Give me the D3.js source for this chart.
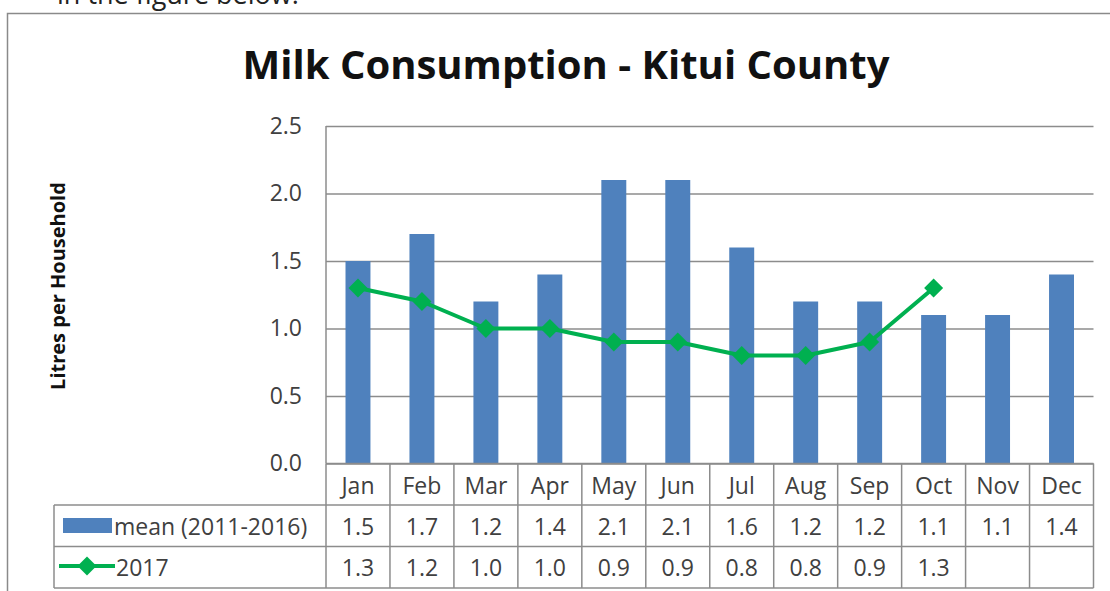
<!DOCTYPE html>
<html>
<head>
<meta charset="utf-8">
<script src="https://cdn.jsdelivr.net/npm/d3@7"></script>
<style>
  body { margin: 0; background: #fff; }
  svg { display: block; font-family: "Open Sans", sans-serif; }
</style>
</head>
<body>
<svg id="chart" width="1110" height="591"></svg>
<script>
const months = ["Jan", "Feb", "Mar", "Apr", "May", "Jun", "Jul", "Aug", "Sep", "Oct", "Nov", "Dec"];
const meanValues = [1.5, 1.7, 1.2, 1.4, 2.1, 2.1, 1.6, 1.2, 1.2, 1.1, 1.1, 1.4];
const values2017 = [1.3, 1.2, 1.0, 1.0, 0.9, 0.9, 0.8, 0.8, 0.9, 1.3, null, null];
const yTicks = [0, 0.5, 1.0, 1.5, 2.0, 2.5];
const seriesNames = ["mean (2011-2016)", "2017"];

const svg = d3.select("#chart");
const plot = { left: 326, right: 1093.5, top: 126, bottom: 463.5 };
const rows = { head: 463.5, r1: 505, r2: 546.5, end: 588 };
const tableLeft = 54;

const barColor = "#4f81bd", lineColor = "#00b050", gridColor = "#8c8c8c", textColor = "#404040";

// text cut off at the top of the page
svg.append("text")
    .attr("x", 57).attr("y", 4)
    .attr("font-size", 27)
    .attr("fill", "#222")
    .text("in the figure below.");

// outer chart frame
svg.append("path")
    .attr("d", "M7.5,591 V13.5 H1110")
    .attr("fill", "none")
    .attr("stroke", "#8a8a8a")
    .attr("stroke-width", 1.5);

// title
svg.append("text")
    .attr("x", 566).attr("y", 79)
    .attr("text-anchor", "middle")
    .attr("font-size", 40)
    .attr("font-weight", "bold")
    .attr("fill", "#111")
    .text("Milk Consumption - Kitui County");

// y axis title
svg.append("text")
    .attr("transform", "translate(65,286) rotate(-90)")
    .attr("text-anchor", "middle")
    .attr("font-size", 20)
    .attr("font-weight", "bold")
    .attr("fill", "#111")
    .text("Litres per Household");

const x = d3.scaleBand()
    .domain(months)
    .range([plot.left, plot.right])
    .padding(0);

const y = d3.scaleLinear()
    .domain([0, 2.5])
    .range([plot.bottom, plot.top]);

// gridlines + tick labels
const yAxis = svg.append("g")
    .attr("transform", `translate(${plot.left},0)`)
    .call(d3.axisLeft(y)
      .tickValues(yTicks)
      .tickFormat(d3.format(".1f"))
      .tickSize(-(plot.right - plot.left))
      .tickPadding(24));
yAxis.select(".domain").remove();
yAxis.selectAll(".tick line")
    .attr("stroke", gridColor)
    .attr("stroke-width", 1.5);
yAxis.selectAll(".tick text")
    .attr("font-size", 23)
    .attr("font-family", "Open Sans, sans-serif")
    .attr("fill", textColor);

// y axis line
svg.append("line")
    .attr("x1", plot.left).attr("x2", plot.left)
    .attr("y1", plot.top).attr("y2", plot.bottom)
    .attr("stroke", gridColor).attr("stroke-width", 1.5);

// bars
const barW = x.bandwidth() * 0.39;
svg.selectAll(".bar")
    .data(months.map((m, i) => ({ m, v: meanValues[i] })))
    .enter().append("rect")
    .attr("class", "bar")
    .attr("x", d => x(d.m) + x.bandwidth() / 2 - barW / 2)
    .attr("y", d => y(d.v))
    .attr("width", barW)
    .attr("height", d => y(0) - y(d.v))
    .attr("fill", barColor);

// 2017 line
const pts = months.map((m, i) => ({ m, v: values2017[i] })).filter(d => d.v != null);
const line = d3.line()
    .x(d => x(d.m) + x.bandwidth() / 2)
    .y(d => y(d.v));
svg.append("path")
    .datum(pts)
    .attr("d", line)
    .attr("fill", "none")
    .attr("stroke", lineColor)
    .attr("stroke-width", 4)
    .attr("stroke-linejoin", "round");

const diamond = d3.symbol().type(d3.symbolDiamond2).size(230);
svg.selectAll(".marker")
    .data(pts)
    .enter().append("path")
    .attr("class", "marker")
    .attr("transform", d => `translate(${x(d.m) + x.bandwidth() / 2},${y(d.v)})`)
    .attr("d", diamond)
    .attr("fill", lineColor);

// data table
const table = svg.append("g")
    .attr("stroke", gridColor)
    .attr("stroke-width", 1.5);
// horizontal lines
[[plot.left, rows.head], [tableLeft, rows.r1], [tableLeft, rows.r2], [tableLeft, rows.end]].forEach(([x0, yy]) => {
  table.append("line").attr("x1", x0).attr("x2", plot.right).attr("y1", yy).attr("y2", yy);
});
// vertical lines
table.append("line").attr("x1", tableLeft).attr("x2", tableLeft).attr("y1", rows.r1).attr("y2", rows.end);
months.forEach(m => {
  table.append("line").attr("x1", x(m)).attr("x2", x(m)).attr("y1", rows.head).attr("y2", rows.end);
});
table.append("line").attr("x1", plot.right).attr("x2", plot.right).attr("y1", rows.head).attr("y2", rows.end);

const cellText = (txt, cx, cy) => svg.append("text")
    .attr("x", cx).attr("y", cy)
    .attr("text-anchor", "middle")
    .attr("dominant-baseline", "central")
    .attr("font-size", 23)
    .attr("fill", textColor)
    .text(txt);

months.forEach((m, i) => {
  const cx = x(m) + x.bandwidth() / 2;
  cellText(m, cx, (rows.head + rows.r1) / 2 + 1);
  cellText(d3.format(".1f")(meanValues[i]), cx, (rows.r1 + rows.r2) / 2);
  if (values2017[i] != null) cellText(d3.format(".1f")(values2017[i]), cx, (rows.r2 + rows.end) / 2);
});

// legend keys in the table
svg.append("rect")
    .attr("x", 63).attr("y", 518)
    .attr("width", 49).attr("height", 15)
    .attr("fill", barColor);
svg.append("text")
    .attr("x", 114).attr("y", (rows.r1 + rows.r2) / 2)
    .attr("dominant-baseline", "central")
    .attr("font-size", 23)
    .attr("fill", textColor)
    .text(seriesNames[0]);

svg.append("line")
    .attr("x1", 59).attr("x2", 115)
    .attr("y1", 566).attr("y2", 566)
    .attr("stroke", lineColor).attr("stroke-width", 4);
svg.append("path")
    .attr("transform", "translate(87,566)")
    .attr("d", diamond)
    .attr("fill", lineColor);
svg.append("text")
    .attr("x", 116).attr("y", (rows.r2 + rows.end) / 2)
    .attr("dominant-baseline", "central")
    .attr("font-size", 23)
    .attr("fill", textColor)
    .text(seriesNames[1]);
</script>
</body>
</html>
